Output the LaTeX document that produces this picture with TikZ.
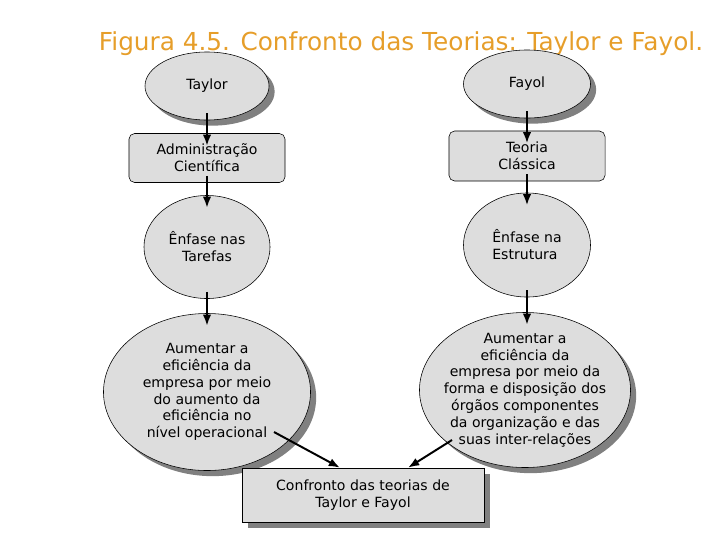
\documentclass[tikz,border=0pt]{standalone}
\usepackage{fontspec}
\setmainfont{DejaVu Sans}
\usepackage{xcolor}
\usepackage{tikz}
\usetikzlibrary{arrows.meta,shapes.geometric,shadows}
\definecolor{boxgray}{RGB}{221,221,221}
\definecolor{shadegray}{RGB}{128,128,128}
\definecolor{titleorange}{RGB}{230,158,42}

\begin{document}
\begin{tikzpicture}[x=0.025cm, y=-0.025cm,
  txt/.style={font=\fontsize{10}{12}\selectfont, align=center},
  oval/.style={txt, draw, ellipse, fill=boxgray, inner sep=0pt, line width=0.4pt},
  rbox/.style={txt, draw, rectangle, rounded corners=4pt, fill=boxgray, line width=0.4pt},
  sqbox/.style={txt, draw, rectangle, fill=boxgray, line width=0.4pt},
  shadowed/.style={drop shadow={shadow xshift=4pt, shadow yshift=-4pt, fill=shadegray, opacity=1}},
  arr/.style={-{Latex[length=8pt,width=6pt]}, line width=1.4pt},
  chain/.style={arr, shorten <=-5pt, shorten >=-9pt}
]
\useasboundingbox (0,0) rectangle (720,540);

\node[font=\fontsize{17.6}{20}\selectfont, text=titleorange] (title) at (401,44) {Figura 4.5. Confronto das Teorias: Taylor e Fayol.};

% Taylor
\node[oval, shadowed, minimum width=3.1cm, minimum height=1.7cm] (taylor) at (207,86) {Taylor};
\node[rbox, minimum width=3.9cm, minimum height=1.225cm] (admin) at (207,158) {Administração\\Científica};
\node[oval, minimum width=3.15cm, minimum height=2.575cm] (enfT) at (207,247) {Ênfase nas\\Tarefas};
\node[oval, shadowed, minimum width=5.175cm, minimum height=3.925cm] (aumT) at (207,392)
  {Aumentar a\\eficiência da\\empresa por meio\\do aumento da\\eficiência no\\nível operacional};

% Fayol
\node[oval, shadowed, minimum width=3.175cm, minimum height=1.7cm] (fayol) at (527,84) {Fayol};
\node[rbox, minimum width=3.9cm, minimum height=1.25cm] (teoria) at (527,156) {Teoria\\Clássica};
\node[oval, align=left, minimum width=3.175cm, minimum height=2.6cm] (enfE) at (527,245) {Ênfase na\\Estrutura};
\node[oval, shadowed, inner xsep=-5pt, inner ysep=-3pt, minimum width=5.275cm, minimum height=3.875cm] (aumE) at (525,390)
  {Aumentar a\\eficiência da\\empresa por meio da\\forma e disposição dos\\órgãos componentes\\da organização e das\\suas inter-relações};

\node[sqbox, shadowed, minimum width=6.05cm, minimum height=1.35cm] (confr) at (363,495) {Confronto das teorias de\\Taylor e Fayol};

\foreach \a/\b in {taylor/admin, admin/enfT, enfT/aumT, fayol/teoria, teoria/enfE, enfE/aumE}
  \draw[chain] (\a.south) -- (\a.south |- \b.north);

\draw[arr] ([shift={(67,40)}]aumT.center) -- ([shift={(-23,0)}]confr.north);
\draw[arr] ([shift={(-73,50)}]aumE.center) -- ([shift={(45,0)}]confr.north);
\end{tikzpicture}
\end{document}
